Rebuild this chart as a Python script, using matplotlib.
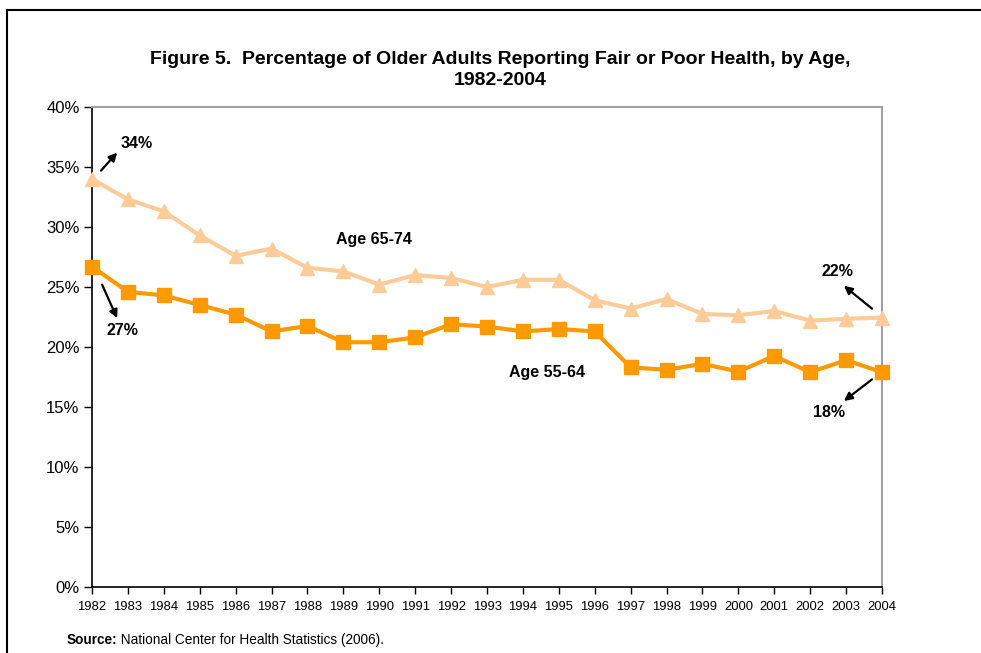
import matplotlib
matplotlib.use("Agg")
import matplotlib.pyplot as plt
from matplotlib.lines import Line2D
from matplotlib.ticker import FuncFormatter

plt.rcParams['font.family'] = ['Liberation Sans', 'DejaVu Sans']

years = list(range(1982, 2005))
age_65_74 = [34.0, 32.3, 31.3, 29.3, 27.6, 28.2, 26.6, 26.3, 25.2, 26.0, 25.75, 25.0,
             25.6, 25.6, 23.9, 23.2, 24.0, 22.75, 22.65, 23.0, 22.2, 22.35, 22.45]
age_55_64 = [26.7, 24.6, 24.3, 23.5, 22.7, 21.3, 21.75, 20.4, 20.4, 20.8, 21.9, 21.7,
             21.3, 21.5, 21.3, 18.3, 18.1, 18.6, 17.95, 19.25, 17.9, 18.9, 17.9]
y_ticks = [0, 5, 10, 15, 20, 25, 30, 35, 40]

# callouts: label, text position, arrow tail, arrow head
callouts = [
    ("34%", (1983.24, 37.0), (1982.25, 34.7), (1982.7, 36.2)),
    ("27%", (1982.84, 21.4), (1982.28, 25.2), (1982.7, 22.4)),
    ("22%", (2002.75, 26.3), (2003.72, 23.2), (2002.94, 25.1)),
    ("18%", (2002.52, 14.5), (2003.72, 17.3), (2002.94, 15.5)),
]
series_labels = [("Age 65-74", (1989.85, 29.0)), ("Age 55-64", (1994.67, 17.9))]

fig = plt.figure(figsize=(9.81, 6.53), dpi=100)
ax = fig.add_axes([0.0938, 0.1011, 0.8053, 0.7350])

ax.plot(years, age_65_74, color='#FFCC99', lw=3, marker='^', markersize=10,
        markeredgecolor='#FFCC99', clip_on=False, zorder=3)
ax.plot(years, age_55_64, color='#FF9900', lw=3, marker='s', markersize=10,
        markeredgecolor='#FF9900', clip_on=False, zorder=4)

ax.set_xlim(1982, 2004)
ax.set_ylim(0, 40)
ax.set_xticks(years)
ax.set_yticks(y_ticks)
ax.yaxis.set_major_formatter(FuncFormatter(lambda v, p: f"{v:.0f}%"))
ax.tick_params(axis='y', labelsize=12, length=6, width=1, direction='out', pad=3)
ax.tick_params(axis='x', labelsize=9.4, length=5, width=1, direction='out', pad=5)

for side in ('left', 'bottom'):
    ax.spines[side].set_color('black')
    ax.spines[side].set_linewidth(1.2)
for side in ('top', 'right'):
    ax.spines[side].set_color('#A0A0A0')
    ax.spines[side].set_linewidth(1.5)

for label, txt, tail, head in callouts:
    ax.annotate('', xy=head, xytext=tail,
                arrowprops=dict(arrowstyle='-|>', color='black', lw=1.6, mutation_scale=12,
                                shrinkA=0, shrinkB=0))
    ax.text(txt[0], txt[1], label, ha='center', va='center', fontsize=11.5, fontweight='bold')

for label, pos in series_labels:
    ax.text(pos[0], pos[1], label, ha='center', va='center', fontsize=11.5, fontweight='bold')

fig.text(0.51, 0.893, "Figure 5.  Percentage of Older Adults Reporting Fair or Poor Health, by Age,\n1982-2004",
         ha='center', va='center', fontsize=14, fontweight='bold', linespacing=1.27)

src = fig.text(0.068, 0.02, "Source:", fontsize=9.8, fontweight='bold', ha='left', va='center')
ax.annotate(" National Center for Health Statistics (2006).", xy=(1, 0.5), xycoords=src,
            ha='left', va='center', fontsize=9.8, annotation_clip=False)

# outer frame (left and top edges only are visible)
fig.add_artist(Line2D([0.0071, 0.0071], [0, 0.9847], color='black', lw=1.5, transform=fig.transFigure))
fig.add_artist(Line2D([0.0071, 1.0], [0.9847, 0.9847], color='black', lw=1.5, transform=fig.transFigure))

fig.savefig("out.png", dpi=100)
